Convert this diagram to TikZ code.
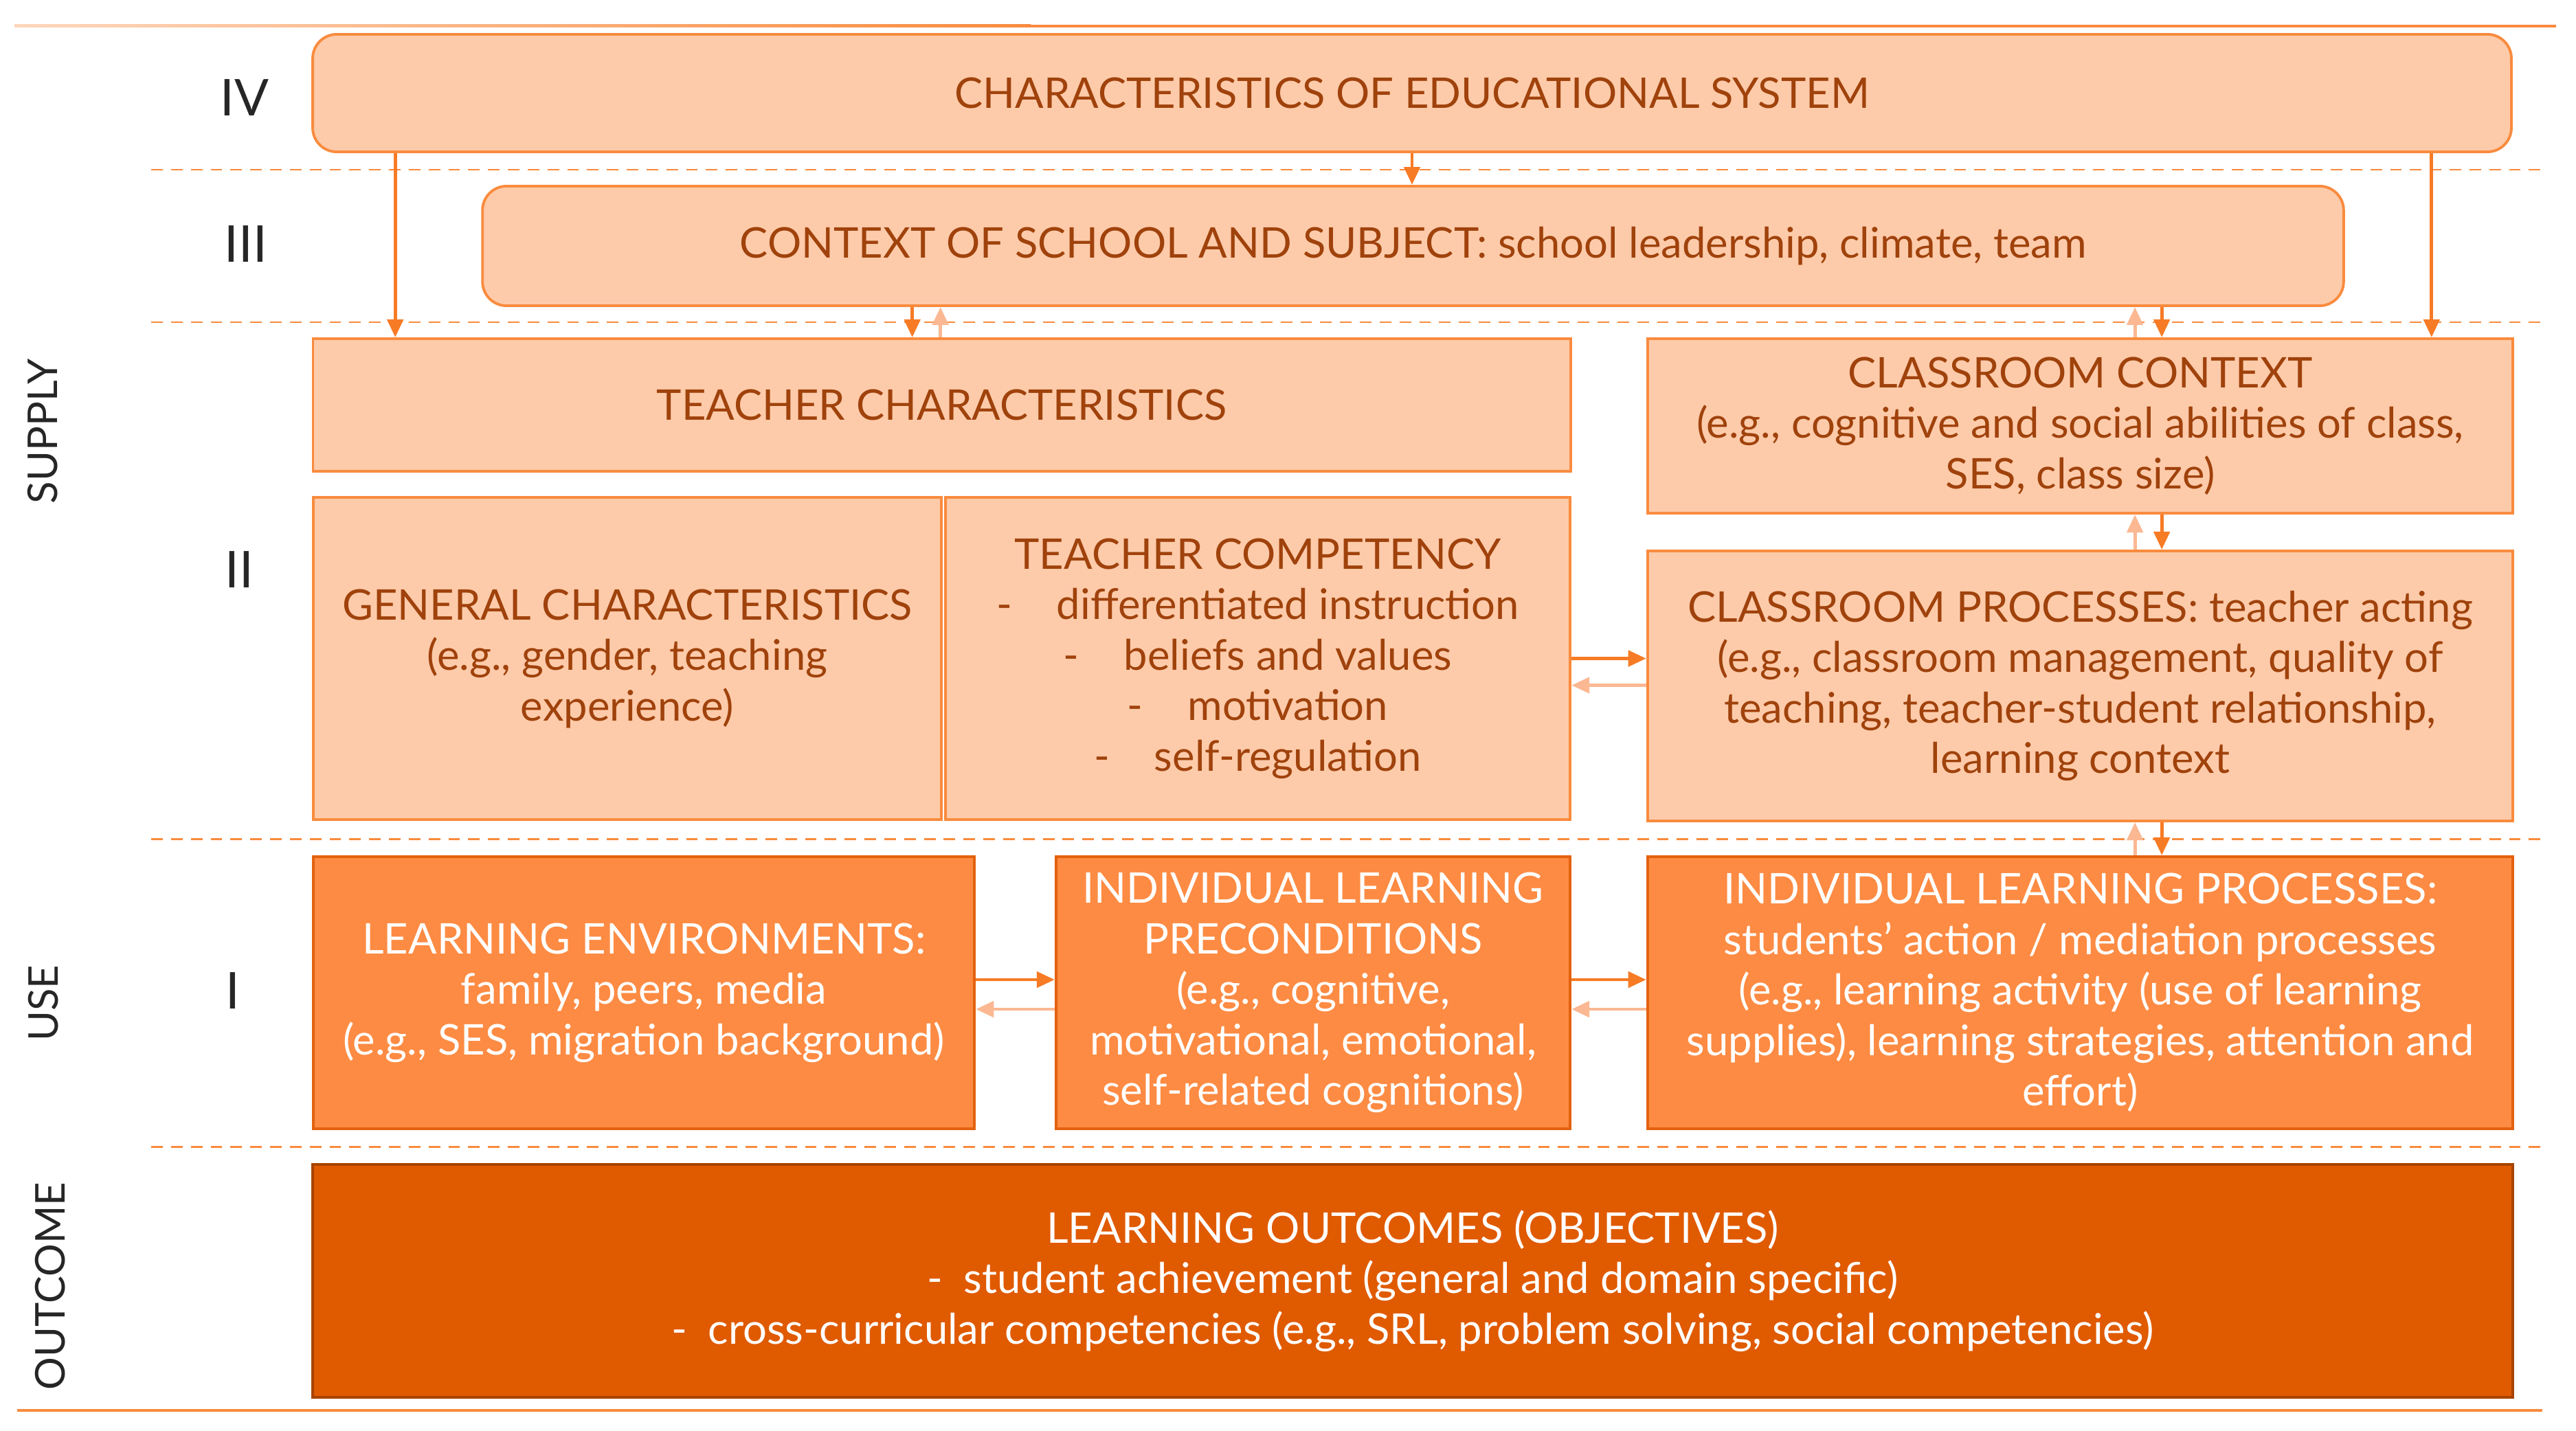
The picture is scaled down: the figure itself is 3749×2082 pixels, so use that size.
\documentclass[tikz,border=0pt]{standalone}
\usepackage{fontspec}
\setmainfont{Lato}
\usetikzlibrary{arrows.meta}
\definecolor{peach}{HTML}{FDCBAA}
\definecolor{peachline}{HTML}{F98B3E}
\definecolor{brownink}{HTML}{A0420C}
\definecolor{midorange}{HTML}{FD8B43}
\definecolor{midline}{HTML}{E3610F}
\definecolor{deeporange}{HTML}{E05A00}
\definecolor{deepline}{HTML}{A84400}
\definecolor{arrowdark}{HTML}{F77B25}
\definecolor{arrowlight}{HTML}{FBB892}
\tikzset{
	cell/.style={rectangle, inner sep=0pt, align=center, line width=1.1pt,
		font=\fontsize{17.5}{20.9}\selectfont},
	lightbox/.style={cell, draw=peachline, fill=peach, text=brownink},
	roundbox/.style={lightbox, rounded corners=0.35cm},
	midbox/.style={cell, draw=midline, fill=midorange, text=white},
	darkbox/.style={cell, draw=deepline, fill=deeporange, text=white},
	numeral/.style={font=\fontsize{21}{24}\selectfont, text=black!85},
	sidelabel/.style={rotate=90, font=\fontsize{17}{20}\selectfont, text=black!85},
	divider/.style={draw=peachline, line width=0.85pt, dash pattern=on 4.8pt off 3.4pt},
	frameline/.style={draw=peachline, line width=1.1pt},
	fwd/.style={draw=arrowdark, line width=1.4pt, -{Triangle[length=0.26cm,width=0.23cm]}},
	back/.style={draw=arrowlight, line width=1.4pt, -{Triangle[length=0.26cm,width=0.23cm]}}
}
\begin{document}
\begin{tikzpicture}[x=0.01cm, y=-0.01cm]
	\useasboundingbox (0,0) rectangle (3749,2082);
	
	\shade[left color=peachline!35, right color=peachline] (21,36) rectangle (1500,40);
	\draw[frameline] (1500,38) -- (3720,38);
	\draw[frameline] (25,2053) -- (3700,2053);
	\foreach \y in {247,469,1221,1669}
		\draw[divider] (220,\y) -- (3702,\y);
	
	\node[sidelabel] (supply) at (62,628) {SUPPLY};
	\node[sidelabel] (use) at (63,1460) {USE};
	\node[sidelabel] (outcome) at (73,1872) {OUTCOME};
	
	\node[numeral] (n4) at (356,142) {IV};
	\node[numeral] (n3) at (358,355) {III};
	\node[numeral] (n2) at (348,829) {II};
	\node[numeral] (n1) at (339,1442) {I};
	
	\node[roundbox, minimum width=31.98cm, minimum height=1.71cm] (sys) at (2055,135.5)
		{CHARACTERISTICS OF EDUCATIONAL SYSTEM};
	\node[roundbox, minimum width=27.07cm, minimum height=1.74cm] (ctx) at (2056.5,358)
		{CONTEXT OF SCHOOL AND SUBJECT: school leadership, climate, team};
	
	\node[lightbox, minimum width=18.29cm, minimum height=1.93cm] (tch) at (1370.5,589.5)
		{TEACHER CHARACTERISTICS};
	\node[lightbox, minimum width=12.59cm, minimum height=2.54cm] (cc) at (3027.5,620)
		{CLASSROOM CONTEXT\\(e.g., cognitive and social abilities of class,\\SES, class size)};
	\node[lightbox, minimum width=9.14cm, minimum height=4.69cm] (gen) at (913,958.5)
		{GENERAL CHARACTERISTICS\\(e.g., gender, teaching\\experience)};
	\node[lightbox, minimum width=9.09cm, minimum height=4.69cm] (comp) at (1830.5,958.5)
		{TEACHER COMPETENCY\\
		-\hspace{0.65cm}differentiated instruction\\
		-\hspace{0.65cm}beliefs and values\\
		-\hspace{0.65cm}motivation\\
		-\hspace{0.65cm}self-regulation};
	\node[lightbox, minimum width=12.59cm, minimum height=3.93cm] (cp) at (3027.5,998.5)
		{CLASSROOM PROCESSES: teacher acting\\(e.g., classroom management, quality of\\teaching, teacher-student relationship,\\learning context};
	
	\node[midbox, minimum width=9.62cm, minimum height=3.96cm] (env) at (937,1445)
		{LEARNING ENVIRONMENTS:\\family, peers, media\\(e.g., SES, migration background)};
	\node[midbox, minimum width=7.48cm, minimum height=3.96cm] (pre) at (1911,1445)
		{INDIVIDUAL LEARNING\\PRECONDITIONS\\(e.g., cognitive,\\motivational, emotional,\\self-related cognitions)};
	\node[midbox, minimum width=12.59cm, minimum height=3.96cm] (proc) at (3027.5,1445)
		{INDIVIDUAL LEARNING PROCESSES:\\students’ action / mediation processes\\(e.g., learning activity (use of learning\\supplies), learning strategies, attention and\\effort)};
	
	\node[darkbox, minimum width=32cm, minimum height=3.39cm] (out) at (2056,1864.5)
		{LEARNING OUTCOMES (OBJECTIVES)\\
		-\hspace{0.3cm}student achievement (general and domain specific)\\
		-\hspace{0.3cm}cross-curricular competencies (e.g., SRL, problem solving, social competencies)};
	
	\coordinate (v1) at ([xshift=1.22cm]sys.south west);
	\coordinate (v2) at ([xshift=-1.18cm]sys.south east);
	\coordinate (k1) at ([xshift=6.27cm]ctx.south west);
	\coordinate (k2) at ([xshift=6.68cm]ctx.south west);
	\coordinate (r1) at ([xshift=7.11cm]cc.north west);
	\coordinate (r2) at ([xshift=7.50cm]cc.north west);
	\coordinate (h1) at ([yshift=-0.39cm]comp.east);
	\coordinate (h2) at ([yshift=0.19cm]env.east);
	\coordinate (h3) at ([yshift=-0.24cm]env.east);
	
	\draw[fwd] (v1) -- (v1 |- tch.north);
	\draw[fwd] (sys.south) -- (sys.south |- ctx.north);
	\draw[fwd] (v2) -- (v2 |- cc.north);
	
	\draw[fwd] (k1) -- (k1 |- tch.north);
	\draw[back] (k2 |- tch.north) -- (k2);
	
	\draw[fwd] (r2 |- ctx.south) -- (r2);
	\draw[back] (r1) -- (r1 |- ctx.south);
	\draw[fwd] (r2 |- cc.south) -- (r2 |- cp.north);
	\draw[back] (r1 |- cp.north) -- (r1 |- cc.south);
	\draw[fwd] (r2 |- cp.south) -- (r2 |- proc.north);
	\draw[back] (r1 |- proc.north) -- (r1 |- cp.south);
	
	\draw[fwd] (comp.east) -- (comp.east -| cp.west);
	\draw[back] (h1 -| cp.west) -- (h1);
	\draw[fwd] (h2) -- (h2 -| pre.west);
	\draw[back] (h3 -| pre.west) -- (h3);
	\draw[fwd] (h2 -| pre.east) -- (h2 -| proc.west);
	\draw[back] (h3 -| proc.west) -- (h3 -| pre.east);
	
\end{tikzpicture}
\end{document}
